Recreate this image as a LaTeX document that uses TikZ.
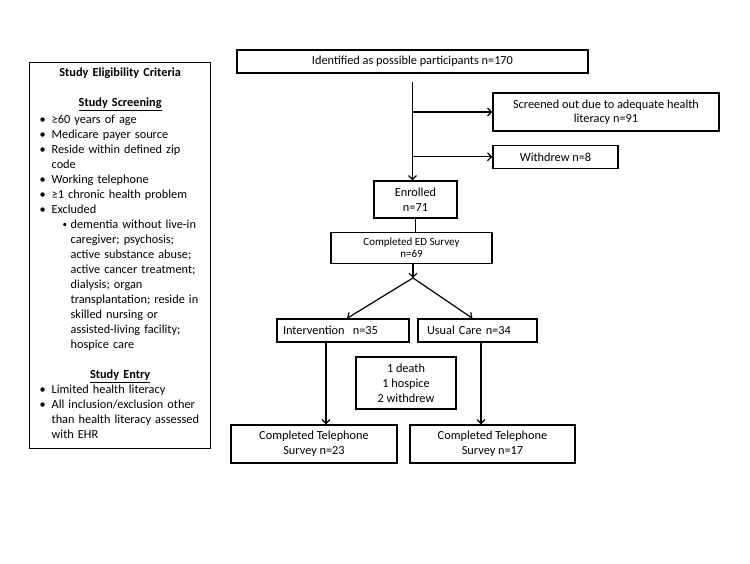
\documentclass[tikz,border=0pt]{standalone}
\usepackage{fontspec}
\setmainfont{Carlito}
\usetikzlibrary{arrows.meta,positioning,calc}

\newcommand{\crhead}[1]{{\centering\textbf{#1}\par}}
\newcommand{\critem}[1]{{\leftskip=12pt\noindent\hskip-12pt\makebox[12pt][l]{\textbullet}#1\par}}
\newcommand{\crsub}[1]{{\leftskip=31pt\noindent\hskip-8pt\makebox[8pt][l]{\raisebox{1pt}{\fontsize{9}{9}\selectfont\textbullet}}#1\par}}

\begin{document}
\begin{tikzpicture}[x=1pt, y=-1pt, >={Straight Barb[length=4pt,width=8pt]},
  font=\fontsize{12.3}{15}\selectfont,
  box/.style={draw, line width=1.3pt, inner sep=2pt, align=center},
  flow/.style={->, line width=1.2pt}]
  \useasboundingbox (0,0) rectangle (750,563);

  % eligibility criteria
  \node[box, anchor=north west, text width=161pt, inner xsep=10pt, minimum height=386pt, align=left] (crit) at (29,62) {%
    \crhead{Study Eligibility Criteria}
    \vspace{15pt}
    \crhead{\underline{Study Screening}}
    \vspace{2pt}
    \critem{≥60 years of age}
    \critem{Medicare payer source}
    \critem{Reside within defined zip\\code}
    \critem{Working telephone}
    \critem{≥1 chronic health problem}
    \critem{Excluded}
    \crsub{dementia without live-in\\caregiver; psychosis;\\active substance abuse;\\active cancer treatment;\\dialysis; organ\\transplantation; reside in\\skilled nursing or\\assisted-living facility;\\hospice care}
    \vspace{15pt}
    \crhead{\underline{Study Entry}}
    \critem{Limited health literacy}
    \critem{All inclusion/exclusion other\\than health literacy assessed\\with EHR}
    \vspace{4pt}\hrule height 0pt};

  % flow
  \node[box, minimum width=351pt, minimum height=23pt] (ident) at (412.5,61.5) {Identified as possible participants n=170};
  \node[box, minimum width=226pt, minimum height=38pt] (screen) at (606,112) {Screened out due to adequate health\\[-1pt]literacy n=91};
  \node[box, minimum width=125pt, minimum height=23pt, below right=13pt and 0pt of screen.south west] (withdr) {Withdrew n=8};
  \node[box, minimum width=83pt, minimum height=37pt] (enrol) at (415.5,199.5) {Enrolled\\n=71};
  \node[box, minimum width=161pt, minimum height=31pt, below=13pt of enrol, xshift=-4pt, font=\fontsize{11}{15}\selectfont] (edsurv) {Completed ED Survey\\[-3pt]n=69};
  \node[box, text width=120pt, inner xsep=6pt, minimum height=23pt, align=left] (interv) at (343,330.5) {Intervention~ n=35};
  \node[box, text width=101pt, inner xsep=9pt, minimum height=23pt, align=left] (usual) at (477.5,330.5) {Usual Care n=34};
  \node[box, minimum width=100pt, minimum height=52pt] (losses) at (406,383) {1 death\\1 hospice\\2 withdrew};
  \node[box, minimum width=166pt, minimum height=38pt] (telA) at (314,444) {Completed Telephone\\Survey n=23};
  \node[box, minimum width=165pt, minimum height=38pt] (telB) at (492.5,444) {Completed Telephone\\Survey n=17};

  \coordinate (top) at ($(ident.south)+(0,8)$);
  \draw[flow] (top) -- (top |- enrol.north);
  \draw[flow] (top |- screen.west) -- (screen.west);
  \draw[flow] (top |- withdr.west) -- (withdr.west);
  \draw[line width=1.2pt] (enrol.south) -- (enrol.south |- edsurv.north);
  \coordinate (split) at ($(edsurv.south)+(1.5,14)$);
  \draw[flow] (edsurv.south -| split) -- (split);
  \draw[flow] (split) -- ($(interv.north)+(4,0)$);
  \draw[flow] (split) -- ($(usual.north)+(-5,0)$);
  \draw[flow] ($(interv.south)+(-17,0)$) coordinate (ia) -- (ia |- telA.north);
  \draw[flow] ($(usual.south)+(3.5,0)$) coordinate (ua) -- (ua |- telB.north);
\end{tikzpicture}
\end{document}
